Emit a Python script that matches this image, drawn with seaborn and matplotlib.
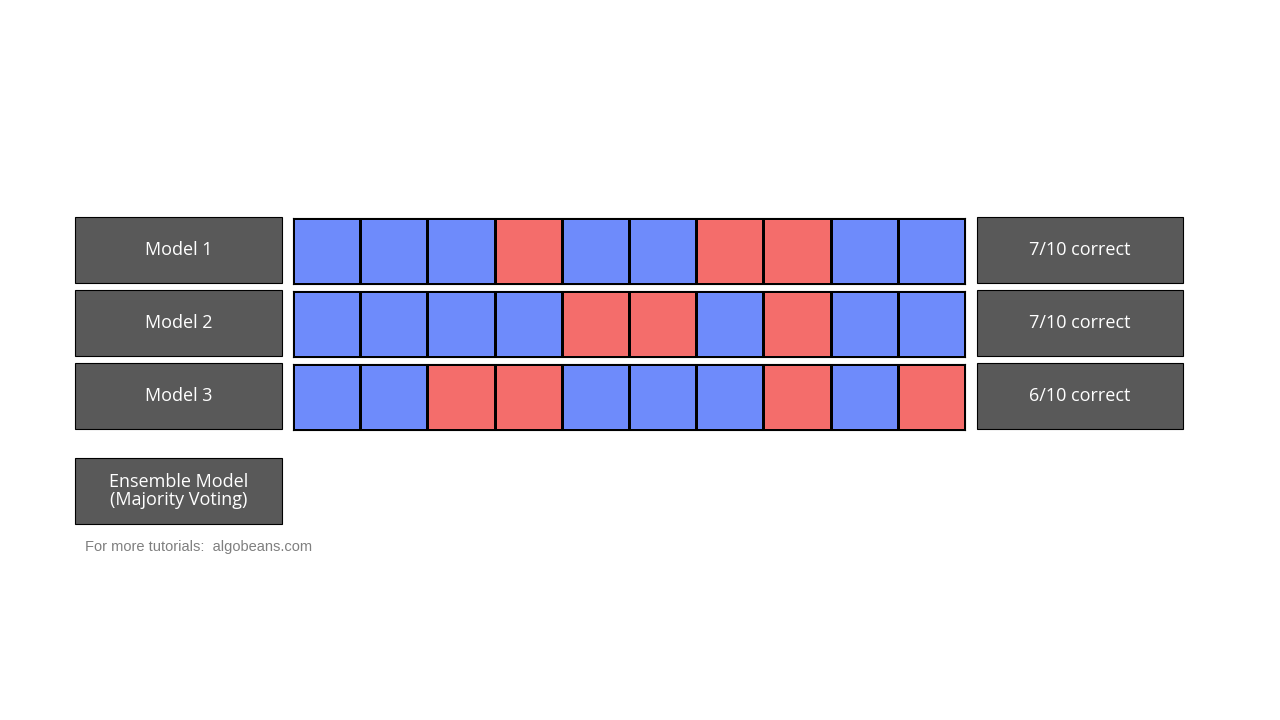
import matplotlib
matplotlib.use("Agg")
import matplotlib.pyplot as plt
import seaborn as sns
import numpy as np
from matplotlib.colors import ListedColormap
from matplotlib.patches import Rectangle

models = ["Model 1", "Model 2", "Model 3"]
scores = ["7/10 correct", "7/10 correct", "6/10 correct"]
# 1 = correct (blue), 0 = wrong (red)
model1 = [1, 1, 1, 0, 1, 1, 0, 0, 1, 1]
model2 = [1, 1, 1, 1, 0, 0, 1, 0, 1, 1]
model3 = [1, 1, 0, 0, 1, 1, 1, 0, 1, 0]
rows = [model1, model2, model3]
ensemble_label = "Ensemble Model\n(Majority Voting)"
footer = "For more tutorials:  algobeans.com"

W, H = 1280, 720
fig = plt.figure(figsize=(12.8, 7.2), dpi=100)
fig.patch.set_facecolor("white")
cmap = ListedColormap(["#F46D6B", "#6E8BFB"])

row_tops = [218, 291, 364]
rh = 66
for i, (vals, top) in enumerate(zip(rows, row_tops)):
    ax = fig.add_axes([293 / W, (H - top - rh) / H, 672 / W, rh / H])
    sns.heatmap(np.array([vals]), ax=ax, cmap=cmap, vmin=0, vmax=1, cbar=False,
                linewidths=1, linecolor="black", xticklabels=False, yticklabels=False)
    for s in ax.spines.values():
        s.set_visible(True); s.set_linewidth(0.8)

bg = fig.add_axes([0, 0, 1, 1], zorder=-1)
bg.set_xlim(0, W); bg.set_ylim(H, 0); bg.axis("off")

def box(x0, y0, w, h, text):
    bg.add_patch(Rectangle((x0, y0), w, h, facecolor="#595959", edgecolor="black", lw=0.8))
    bg.text(x0 + w / 2, y0 + h / 2, text, color="white", ha="center", va="center",
            fontsize=13, family="Open Sans", linespacing=1.05)

for m, s, top in zip(models, scores, row_tops):
    box(75, top - 1, 207, 66, m)
    box(977, top - 1, 206, 66, s)
box(75, 458, 207, 66, ensemble_label)
bg.text(85, 547, footer, color="#7F7F7F", fontsize=10.5, va="center", family="Liberation Sans")

fig.savefig("out.png", dpi=100)
